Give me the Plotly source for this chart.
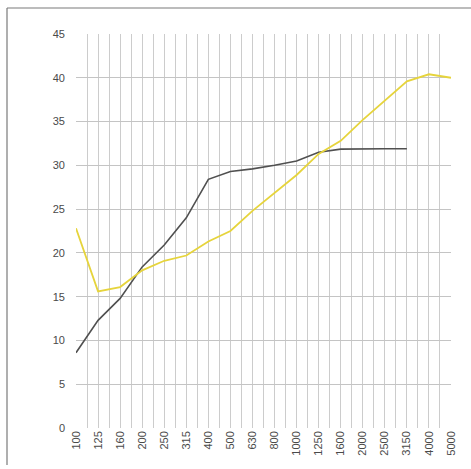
import plotly.graph_objects as go

categories = ["100", "125", "160", "200", "250", "315", "400", "500", "630", "800",
              "1000", "1250", "1600", "2000", "2500", "3150", "4000", "5000"]
gray_values = [8.6, 12.3, 14.8, 18.4, 20.9, 24.0, 28.4, 29.3, 29.6, 30.0,
               30.5, 31.5, 31.85, 31.9, 31.9, 31.9]
yellow_values = [22.8, 15.6, 16.1, 18.0, 19.1, 19.7, 21.3, 22.5, 24.8, 26.9,
                 28.9, 31.3, 32.8, 35.2, 37.4, 39.6, 40.4, 40.0]
y_ticks = [0, 5, 10, 15, 20, 25, 30, 35, 40, 45]

idx = list(range(len(categories)))

fig = go.Figure()
fig.add_trace(go.Scatter(x=idx[:len(gray_values)], y=gray_values, mode="lines",
                         line=dict(color="#505050", width=1.6), showlegend=False))
fig.add_trace(go.Scatter(x=idx, y=yellow_values, mode="lines",
                         line=dict(color="#e6d43c", width=1.8), showlegend=False))

fig.update_layout(
    width=471, height=469,
    margin=dict(l=76, r=20, t=34, b=41),
    paper_bgcolor="white", plot_bgcolor="white",
    font=dict(family="Liberation Sans, Arial, sans-serif", size=11, color="#4a4a4a"),
    xaxis=dict(range=[0, len(categories) - 1], tickvals=idx, ticktext=categories,
               tickangle=-90, showgrid=True, gridcolor="#cccccc", gridwidth=1,
               minor=dict(dtick=0.5, tick0=0, showgrid=True, gridcolor="#cccccc", gridwidth=1),
               zeroline=False, showline=False, ticks="", fixedrange=True),
    yaxis=dict(range=[0, 45], tickvals=y_ticks, showgrid=True, gridcolor="#c4c4c4",
               gridwidth=1, zeroline=False, showline=False, ticks="",
               ticklabelstandoff=10, fixedrange=True),
    shapes=[
        dict(type="line", xref="paper", yref="paper", x0=-0.184, x1=1.06, y0=1.066, y1=1.066,
             line=dict(color="#7a7a7a", width=1.2), layer="above"),
        dict(type="line", xref="paper", yref="paper", x0=-0.184, x1=-0.184, y0=1.066, y1=-0.094,
             line=dict(color="#7a7a7a", width=1.2), layer="above"),
    ],
)

fig.write_html("out.html", config={"displayModeBar": False},
               post_script="document.body.style.margin='0';document.body.style.overflow='hidden';")
